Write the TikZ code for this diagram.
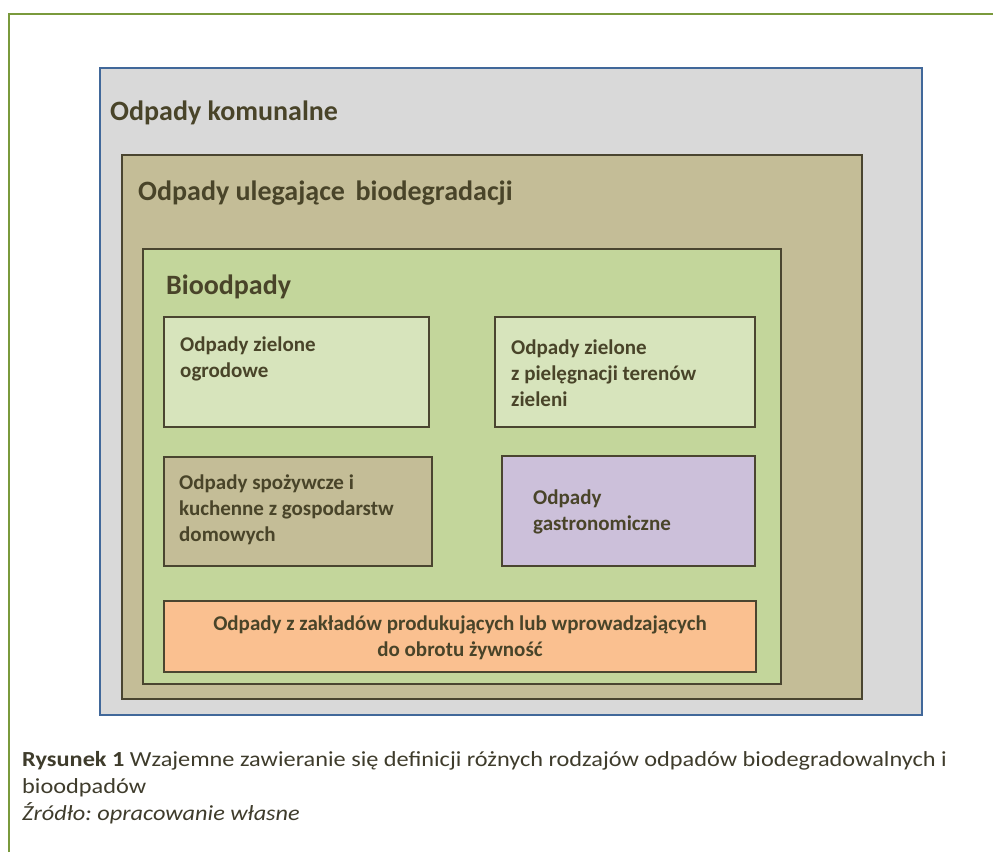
\documentclass[tikz,border=0pt]{standalone}
\usepackage{fontspec}
\setmainfont{Carlito}
\newfontfamily\capfont[FakeStretch=1.13]{Carlito}
\frenchspacing
\definecolor{framegreen}{HTML}{7A9A3C}
\definecolor{blueline}{HTML}{41689A}
\definecolor{darkline}{HTML}{4A4530}
\definecolor{greyfill}{HTML}{D9D9D9}
\definecolor{tanfill}{HTML}{C4BD97}
\definecolor{greenfill}{HTML}{C3D69B}
\definecolor{lightgreen}{HTML}{D7E4BC}
\definecolor{lilac}{HTML}{CCC0DA}
\definecolor{peach}{HTML}{FAC090}
\definecolor{txt}{HTML}{494429}
\definecolor{captxt}{HTML}{3F3C2C}
\tikzset{
  region/.style={draw=darkline, line width=2.6pt, anchor=north west, inner sep=0pt, outer sep=0pt},
  titletext/.style={anchor=base west, inner sep=0pt, text=txt, font=\fontsize{28}{34}\selectfont\bfseries},
  boxtext/.style={anchor=base west, inner sep=0pt, text=txt, align=left, font=\fontsize{21}{25.8}\selectfont\bfseries},
  captext/.style={anchor=base west, inner sep=0pt, text=captxt, align=left, font=\capfont\fontsize{21.5}{27}\selectfont}
}
\begin{document}
\begin{tikzpicture}[x=1pt,y=-1pt]
\useasboundingbox (0,0) rectangle (993,852);
\fill[white] (0,0) rectangle (993,852);
% outer frame
\coordinate (fbl) at (9,852);
\coordinate (ftl) at (9,14);
\coordinate (ftr) at (993,14);
\draw[framegreen, line width=2.4pt] (fbl) -- (ftl) -- (ftr);
% nested regions
\node[region, draw=blueline, line width=2.2pt, fill=greyfill, minimum width=822pt, minimum height=647pt] (kom) at (100,68) {};
\node[region, fill=tanfill, minimum width=740pt, minimum height=544pt] (bio) at (122,155) {};
\node[region, fill=greenfill, minimum width=638pt, minimum height=435pt] (biood) at (143,249) {};
% inner boxes
\node[region, fill=lightgreen, minimum width=265pt, minimum height=110pt] (b1) at (164,317) {};
\node[region, fill=lightgreen, minimum width=260pt, minimum height=110pt] (b2) at (495,317) {};
\node[region, fill=tanfill, minimum width=268pt, minimum height=109pt] (b3) at (164,457) {};
\node[region, fill=lilac, minimum width=253pt, minimum height=110pt] (b4) at (502,456) {};
\node[region, fill=peach, minimum width=592pt, minimum height=71pt] (b5) at (164,601) {};
% titles
\node[titletext] (t1) at (110,120) {Odpady komunalne};
\node[titletext] (t2) at (138,200) {Odpady ulegające\hspace{0.15em} biodegradacji};
\node[titletext] (t3) at (166,294) {Bioodpady};
% box texts (base anchor = baseline of last line)
\node[boxtext] (x1) at (180,377) {Odpady zielone\\ogrodowe};
\node[boxtext] (x2) at (511,406) {Odpady zielone\\z pielęgnacji terenów\\zieleni};
\node[boxtext] (x3) at (179,541) {Odpady spożywcze i\\kuchenne z gospodarstw\\domowych};
\node[boxtext] (x4) at (533,530) {Odpady\\gastronomiczne};
\node[boxtext, anchor=base, align=center] (x5) at (460,656) {Odpady z zakładów produkujących lub wprowadzających\\do obrotu żywność};
% caption
\node[captext] (c1) at (22,820) {\textbf{Rysunek 1} Wzajemne zawieranie się definicji różnych rodzajów odpadów biodegradowalnych i\\bioodpadów\\\textit{Źródło: opracowanie własne}};
\end{tikzpicture}
\end{document}
